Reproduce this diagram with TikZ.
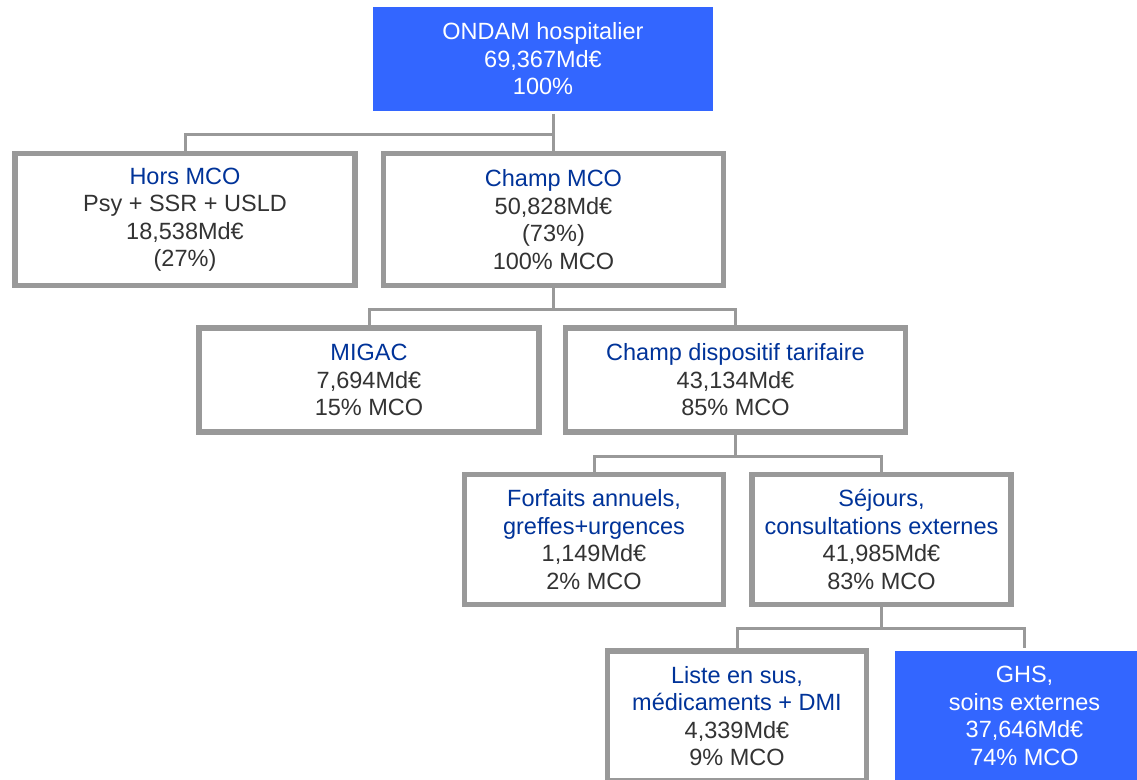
\documentclass[tikz,border=0pt]{standalone}
\usepackage{fontspec}
\setmainfont{Liberation Sans}
\usetikzlibrary{positioning}
\definecolor{onblue}{HTML}{3366FF}
\definecolor{ontitle}{HTML}{003399}
\definecolor{ongrey}{HTML}{999999}
\definecolor{ontext}{HTML}{333333}
\newcommand{\ttl}[1]{\textcolor{ontitle}{#1}}

\begin{document}
\begin{tikzpicture}[x=1pt, y=-1pt,
  font=\fontsize{23.5}{27.5}\selectfont,
  box/.style={draw=ongrey, line width=5.5pt, fill=white, text=ontext, align=center,
    inner sep=0pt, minimum width=340pt, minimum height=104pt},
  wide/.style={box, minimum height=132pt},
  small/.style={box, minimum width=259pt, minimum height=130pt},
  hot/.style={fill=onblue, draw=none, text=white},
  link/.style={draw=ongrey, line width=3pt}]
  \clip (0,0) rectangle (1137,779);
  % level 0
  \node[box, hot] (ondam) at (543,59) {ONDAM hospitalier\\69,367Md€\\100\%};
  % level 1
  \node[wide] (hors) at (185,219.5) {\ttl{Hors MCO}\\Psy + SSR + USLD\\18,538Md€\\(27\%)};
  \node[wide] (mco) at (553.5,219.5) {\ttl{Champ MCO}\\50,828Md€\\(73\%)\\100\% MCO};
  % level 2
  \node[box] (migac) at (369,380) {\ttl{MIGAC}\\7,694Md€\\15\% MCO};
  \node[box] (tarif) at (735.5,380) {\ttl{Champ dispositif tarifaire}\\43,134Md€\\85\% MCO};
  % level 3
  \node[small] (forf) at (594,539.5) {\ttl{Forfaits annuels,}\\\ttl{greffes+urgences}\\1,149Md€\\2\% MCO};
  \node[small] (sejour) at (881.5,539.5) {\ttl{Séjours,}\\\ttl{consultations externes}\\41,985Md€\\83\% MCO};
  % level 4
  \node[small] (liste) at (737,716) {\ttl{Liste en sus,}\\\ttl{médicaments + DMI}\\4,339Md€\\9\% MCO};
  \node[small, hot] (ghs) at (1024.5,716) {GHS,\\soins externes\\37,646Md€\\74\% MCO};
  % connectors
  \draw[link] (ondam.south -| mco.north) -- (mco.north);
  \draw[link] (ondam.south -| mco.north) -- ++(0,21) -| (hors.north);
  \foreach \p/\c in {mco/migac,mco/tarif,tarif/forf,tarif/sejour,sejour/liste,sejour/ghs}
    \draw[link] (\p.south) -- ++(0,21.5) -| (\c.north);
\end{tikzpicture}
\end{document}
